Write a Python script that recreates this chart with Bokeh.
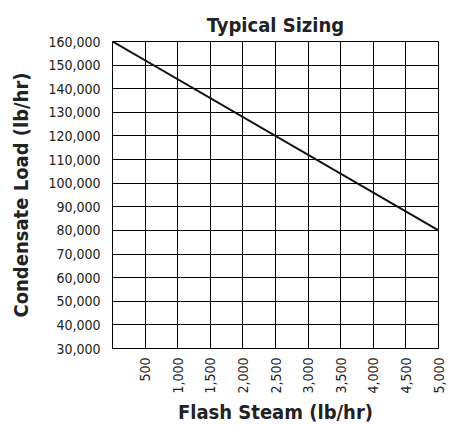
import math
from bokeh.plotting import figure
from bokeh.models import FixedTicker, NumeralTickFormatter
from bokeh.embed import file_html
from bokeh.resources import INLINE

# data
flash_steam = [0, 5000]
condensate_load = [160000, 80000]
x_ticks = [500, 1000, 1500, 2000, 2500, 3000, 3500, 4000, 4500, 5000]
y_ticks = [30000, 40000, 50000, 60000, 70000, 80000, 90000, 100000,
           110000, 120000, 130000, 140000, 150000, 160000]

FONT = "'Liberation Sans Narrow', 'DejaVu Sans Condensed', 'Roboto', sans-serif"

p = figure(
    output_backend="svg", toolbar_location=None,
    frame_width=326, frame_height=307,
    min_border_left=112, min_border_right=9, min_border_top=41, min_border_bottom=70,
    x_range=(0, 5000), y_range=(30000, 160000),
    title="Typical Sizing",
)
p.background_fill_color = "white"
p.border_fill_color = "white"
p.outline_line_color = "black"
p.outline_line_width = 1

p.title.align = "center"
p.title.text_font = FONT
p.title.text_font_size = "20px"
p.title.text_font_style = "bold"
p.title.text_color = "#222222"
p.title.offset = 0
p.title.standoff = 10

p.line(flash_steam, condensate_load, line_color="#111111", line_width=2)

p.xaxis.ticker = FixedTicker(ticks=x_ticks)
p.yaxis.ticker = FixedTicker(ticks=y_ticks)
p.xaxis.formatter = NumeralTickFormatter(format="0,0")
p.yaxis.formatter = NumeralTickFormatter(format="0,0")
p.xaxis.major_label_orientation = math.pi / 2

for ax in (p.xaxis, p.yaxis):
    ax.axis_line_color = "black"
    ax.major_tick_line_color = None
    ax.minor_tick_line_color = None
    ax.major_label_text_font = FONT
    ax.major_label_text_font_size = "14px"
    ax.major_label_text_color = "#222222"
    ax.axis_label_text_font = FONT
    ax.axis_label_text_font_size = "20px"
    ax.axis_label_text_font_style = "bold"
    ax.axis_label_text_color = "#222222"

p.xaxis.major_label_standoff = 3
p.yaxis.major_label_standoff = 6
p.xaxis.axis_label = "Flash Steam (lb/hr)"
p.yaxis.axis_label = "Condensate Load (lb/hr)"
p.xaxis.axis_label_standoff = 3
p.yaxis.axis_label_standoff = 12

p.xgrid.ticker = FixedTicker(ticks=x_ticks)
p.ygrid.ticker = FixedTicker(ticks=y_ticks)
p.grid.grid_line_color = "black"
p.grid.grid_line_width = 1
p.grid.grid_line_alpha = 1

open("out.html", "w").write(file_html(p, INLINE))
